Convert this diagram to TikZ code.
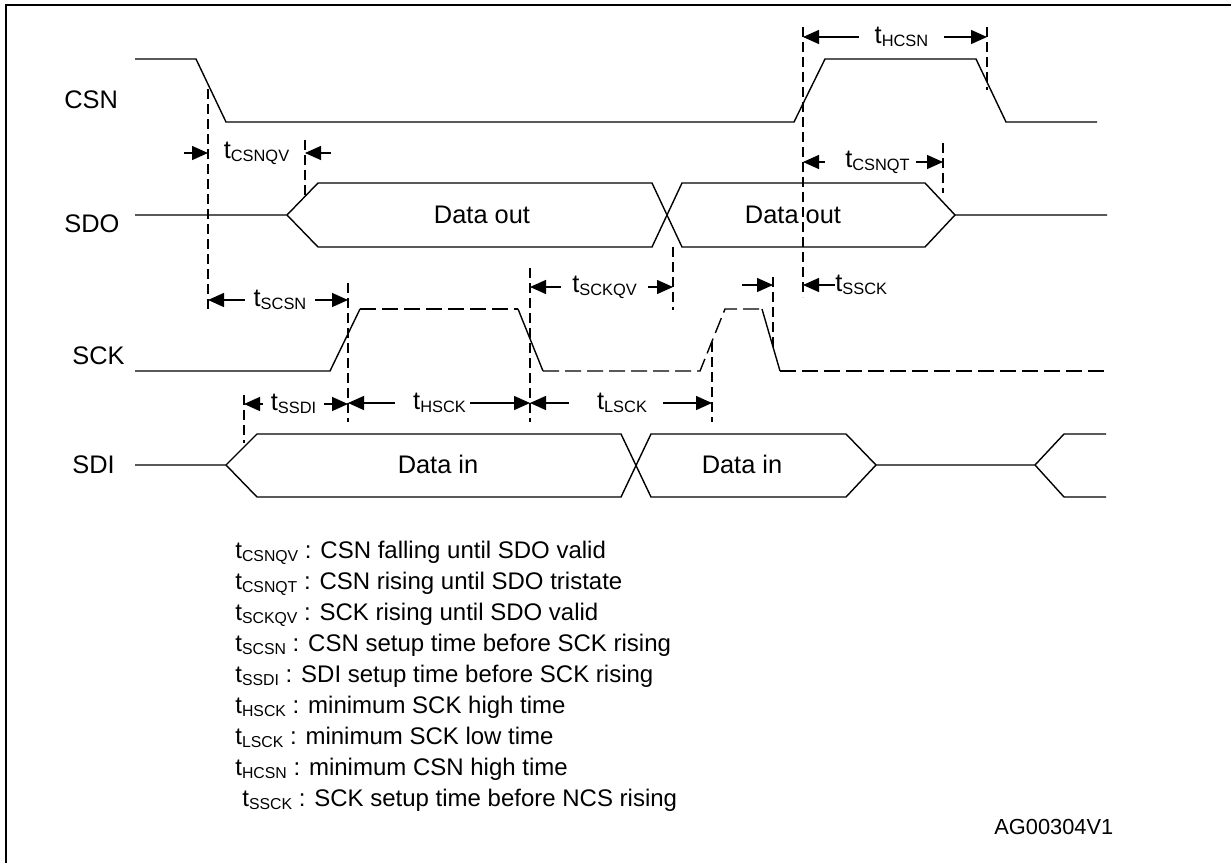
\documentclass[tikz,border=0pt]{standalone}
\usepackage{fontspec}
\setmainfont{Liberation Sans}
\usetikzlibrary{arrows.meta}

\newcommand{\tsub}[2][8.2]{t\raisebox{-1.5pt}{\fontsize{#1}{9}\selectfont #2}}

\begin{document}
\begin{tikzpicture}
[x=0.5pt, y=-0.5pt,
 every node/.style={inner sep=0pt, font=\fontsize{12.7}{15.5}\selectfont},
 wave/.style={line width=0.7pt},
 sckdash/.style={wave, dash pattern=on 8pt off 3pt},
 guide/.style={line width=0.6pt, dash pattern=on 5pt off 2.5pt},
 dim/.style={line width=0.7pt, -{Triangle[length=8pt, width=7pt]}},
 signame/.style={anchor=base west},
 keyline/.style={anchor=base west, font=\fontsize{12}{15.5}\selectfont}]
\useasboundingbox (0,0) rectangle (1231,862);
\draw [line width=1.3pt] (6,870) -- (6,5) -- (1235,5);

% signal names
\node (csn) [signame] at (64,108) {CSN};
\node (sdo) [signame] at (64,232) {SDO};
\node (sck) [signame] at (72,364) {SCK};
\node (sdi) [signame] at (72,473) {SDI};

% waveforms
\draw [wave] (135,59) -- (196,59) -- (226,122) -- (794,122) -- (825,59) -- (976,59) -- (1006,122) -- (1097,122);
\draw [wave] (135,215) -- (287,215) -- (318,183) -- (652,183) -- (682,247) -- (925,247) -- (955,215) -- (1107,215);
\draw [wave] (287,215) -- (318,247) -- (652,247) -- (682,183) -- (925,183) -- (955,215);
\draw [wave] (135,371) -- (330,371) -- (360,309);
\draw [sckdash] (360,309) -- (518,309);
\draw [wave] (518,309) -- (543,371);
\draw [sckdash] (543,371) -- (700,371) -- (725,309) -- (762,309);
\draw [wave] (762,309) -- (780,371);
\draw [sckdash] (780,371) -- (1106,371);
\draw [wave] (135,465) -- (226,465) -- (257,434) -- (621,434) -- (651,497) -- (846,497) -- (876,465) -- (1035,465) -- (1064,434) -- (1106,434);
\draw [wave] (226,465) -- (257,497) -- (621,497) -- (651,434) -- (846,434) -- (876,465);
\draw [wave] (1035,465) -- (1064,497) -- (1106,497);

\node (dout1) [anchor=base] at (482,223) {Data out};
\node (dout2) [anchor=base] at (793,223) {Data out};
\node (din1) [anchor=base] at (438,473) {Data in};
\node (din2) [anchor=base] at (742,473) {Data in};

% timing guides
\coordinate (csnfall) at (208,89);
\coordinate (sdovalid) at (305,140);
\coordinate (sckrise) at (348,283);
\coordinate (sckfall) at (530,268);
\coordinate (sdoswap) at (673,247);
\coordinate (sckrise2) at (712,342);
\coordinate (sckfall2) at (773,277);
\coordinate (csnrise) at (803,27);
\coordinate (csnfall2) at (987,27);
\coordinate (sdoz) at (943,143);
\coordinate (sdiset) at (244,395);
\draw [guide] (csnfall) -- ++(0,221);
\draw [guide] (sdovalid) -- ++(0,56);
\draw [guide] (sckrise) -- ++(0,139);
\draw [guide] (sckfall) -- ++(0,154);
\draw [guide] (sdoswap) -- ++(0,63);
\draw [guide] (sckrise2) -- ++(0,80);
\draw [guide] (sckfall2) -- ++(0,70);
\draw [guide] (csnrise) -- ++(0,270);
\draw [guide] (csnfall2) -- ++(0,63);
\draw [guide] (sdoz) -- ++(0,50);
\draw [guide] (sdiset) -- ++(0,48);

% timing labels
\node (csnqv) at (256.5,153) {\tsub{CSNQV}};
\coordinate (csnqv l) at (184,153);
\coordinate (csnqv r) at (331,153);
\draw [dim] (csnqv l) -- (csnqv l -| csnfall);
\draw [dim] (csnqv r) -- (csnqv r -| sdovalid);

\node (scsn) [minimum width=35pt] at (280,300) {\tsub{SCSN}};
\draw [dim] (scsn.west) -- (scsn.west -| csnfall);
\draw [dim] (scsn.east) -- (scsn.east -| sckrise);

\node (sckqv) [minimum width=43.5pt] at (604.5,287) {\tsub{SCKQV}};
\draw [dim] (sckqv.west) -- (sckqv.west -| sckfall);
\draw [dim] (sckqv.east) -- (sckqv.east -| sdoswap);

\node (hcsn) [minimum width=42.5pt] at (901.5,37) {\tsub{HCSN}};
\draw [dim] (hcsn.west) -- (hcsn.west -| csnrise);
\draw [dim] (hcsn.east) -- (hcsn.east -| csnfall2);

\node (csnqt) [minimum width=45.5pt] at (870.5,162) {\hspace*{7pt}\tsub{CSNQT}};
\draw [dim] (csnqt.west) -- (csnqt.west -| csnrise);
\draw [dim] (csnqt.east) -- (csnqt.east -| sdoz);

\node (ssck) [anchor=west] at (835,285) {\tsub{SSCK}};
\coordinate (ssck l) at (742,285);
\draw [dim] (ssck l) -- (ssck l -| sckfall2);
\draw [dim] (ssck.west) -- (ssck.west -| csnrise);

\node (ssdi) [minimum width=30.5pt] at (293.5,404) {\tsub{SSDI}};
\draw [dim] (ssdi.west) -- (ssdi.west -| sdiset);
\draw [dim] (ssdi.east) -- (ssdi.east -| sckrise);

\node (hsck) [minimum width=37.5pt] at (432.5,403) {\hspace*{7pt}\tsub{HSCK}};
\draw [dim] (hsck.west) -- (hsck.west -| sckrise);
\draw [dim] (hsck.east) -- (hsck.east -| sckfall);

\node (lsck) [minimum width=47pt] at (616,403) {\hspace*{6pt}\tsub{LSCK}};
\draw [dim] (lsck.west) -- (lsck.west -| sckfall);
\draw [dim] (lsck.east) -- (lsck.east -| sckrise2);

% key
\node (key csnqv) [keyline] at (235,558) {\tsub[7.9]{CSNQV} : CSN falling until SDO valid};
\node (key csnqt) [keyline] at (235,589) {\tsub[7.9]{CSNQT} : CSN rising until SDO tristate};
\node (key sckqv) [keyline] at (235,620) {\tsub[7.9]{SCKQV} : SCK rising until SDO valid};
\node (key scsn) [keyline] at (235,651) {\tsub[7.9]{SCSN} : CSN setup time before SCK rising};
\node (key ssdi) [keyline] at (235,682) {\tsub[7.9]{SSDI} : SDI setup time before SCK rising};
\node (key hsck) [keyline] at (235,713) {\tsub[7.9]{HSCK} : minimum SCK high time};
\node (key lsck) [keyline] at (235,744) {\tsub[7.9]{LSCK} : minimum SCK low time};
\node (key hcsn) [keyline] at (235,775) {\tsub[7.9]{HCSN} : minimum CSN high time};
\node (key ssck) [keyline] at (242,806) {\tsub[7.9]{SSCK} : SCK setup time before NCS rising};

\node (ref) [anchor=base west, font=\fontsize{10.9}{13}\selectfont] at (994,834) {AG00304V1};
\end{tikzpicture}
\end{document}
